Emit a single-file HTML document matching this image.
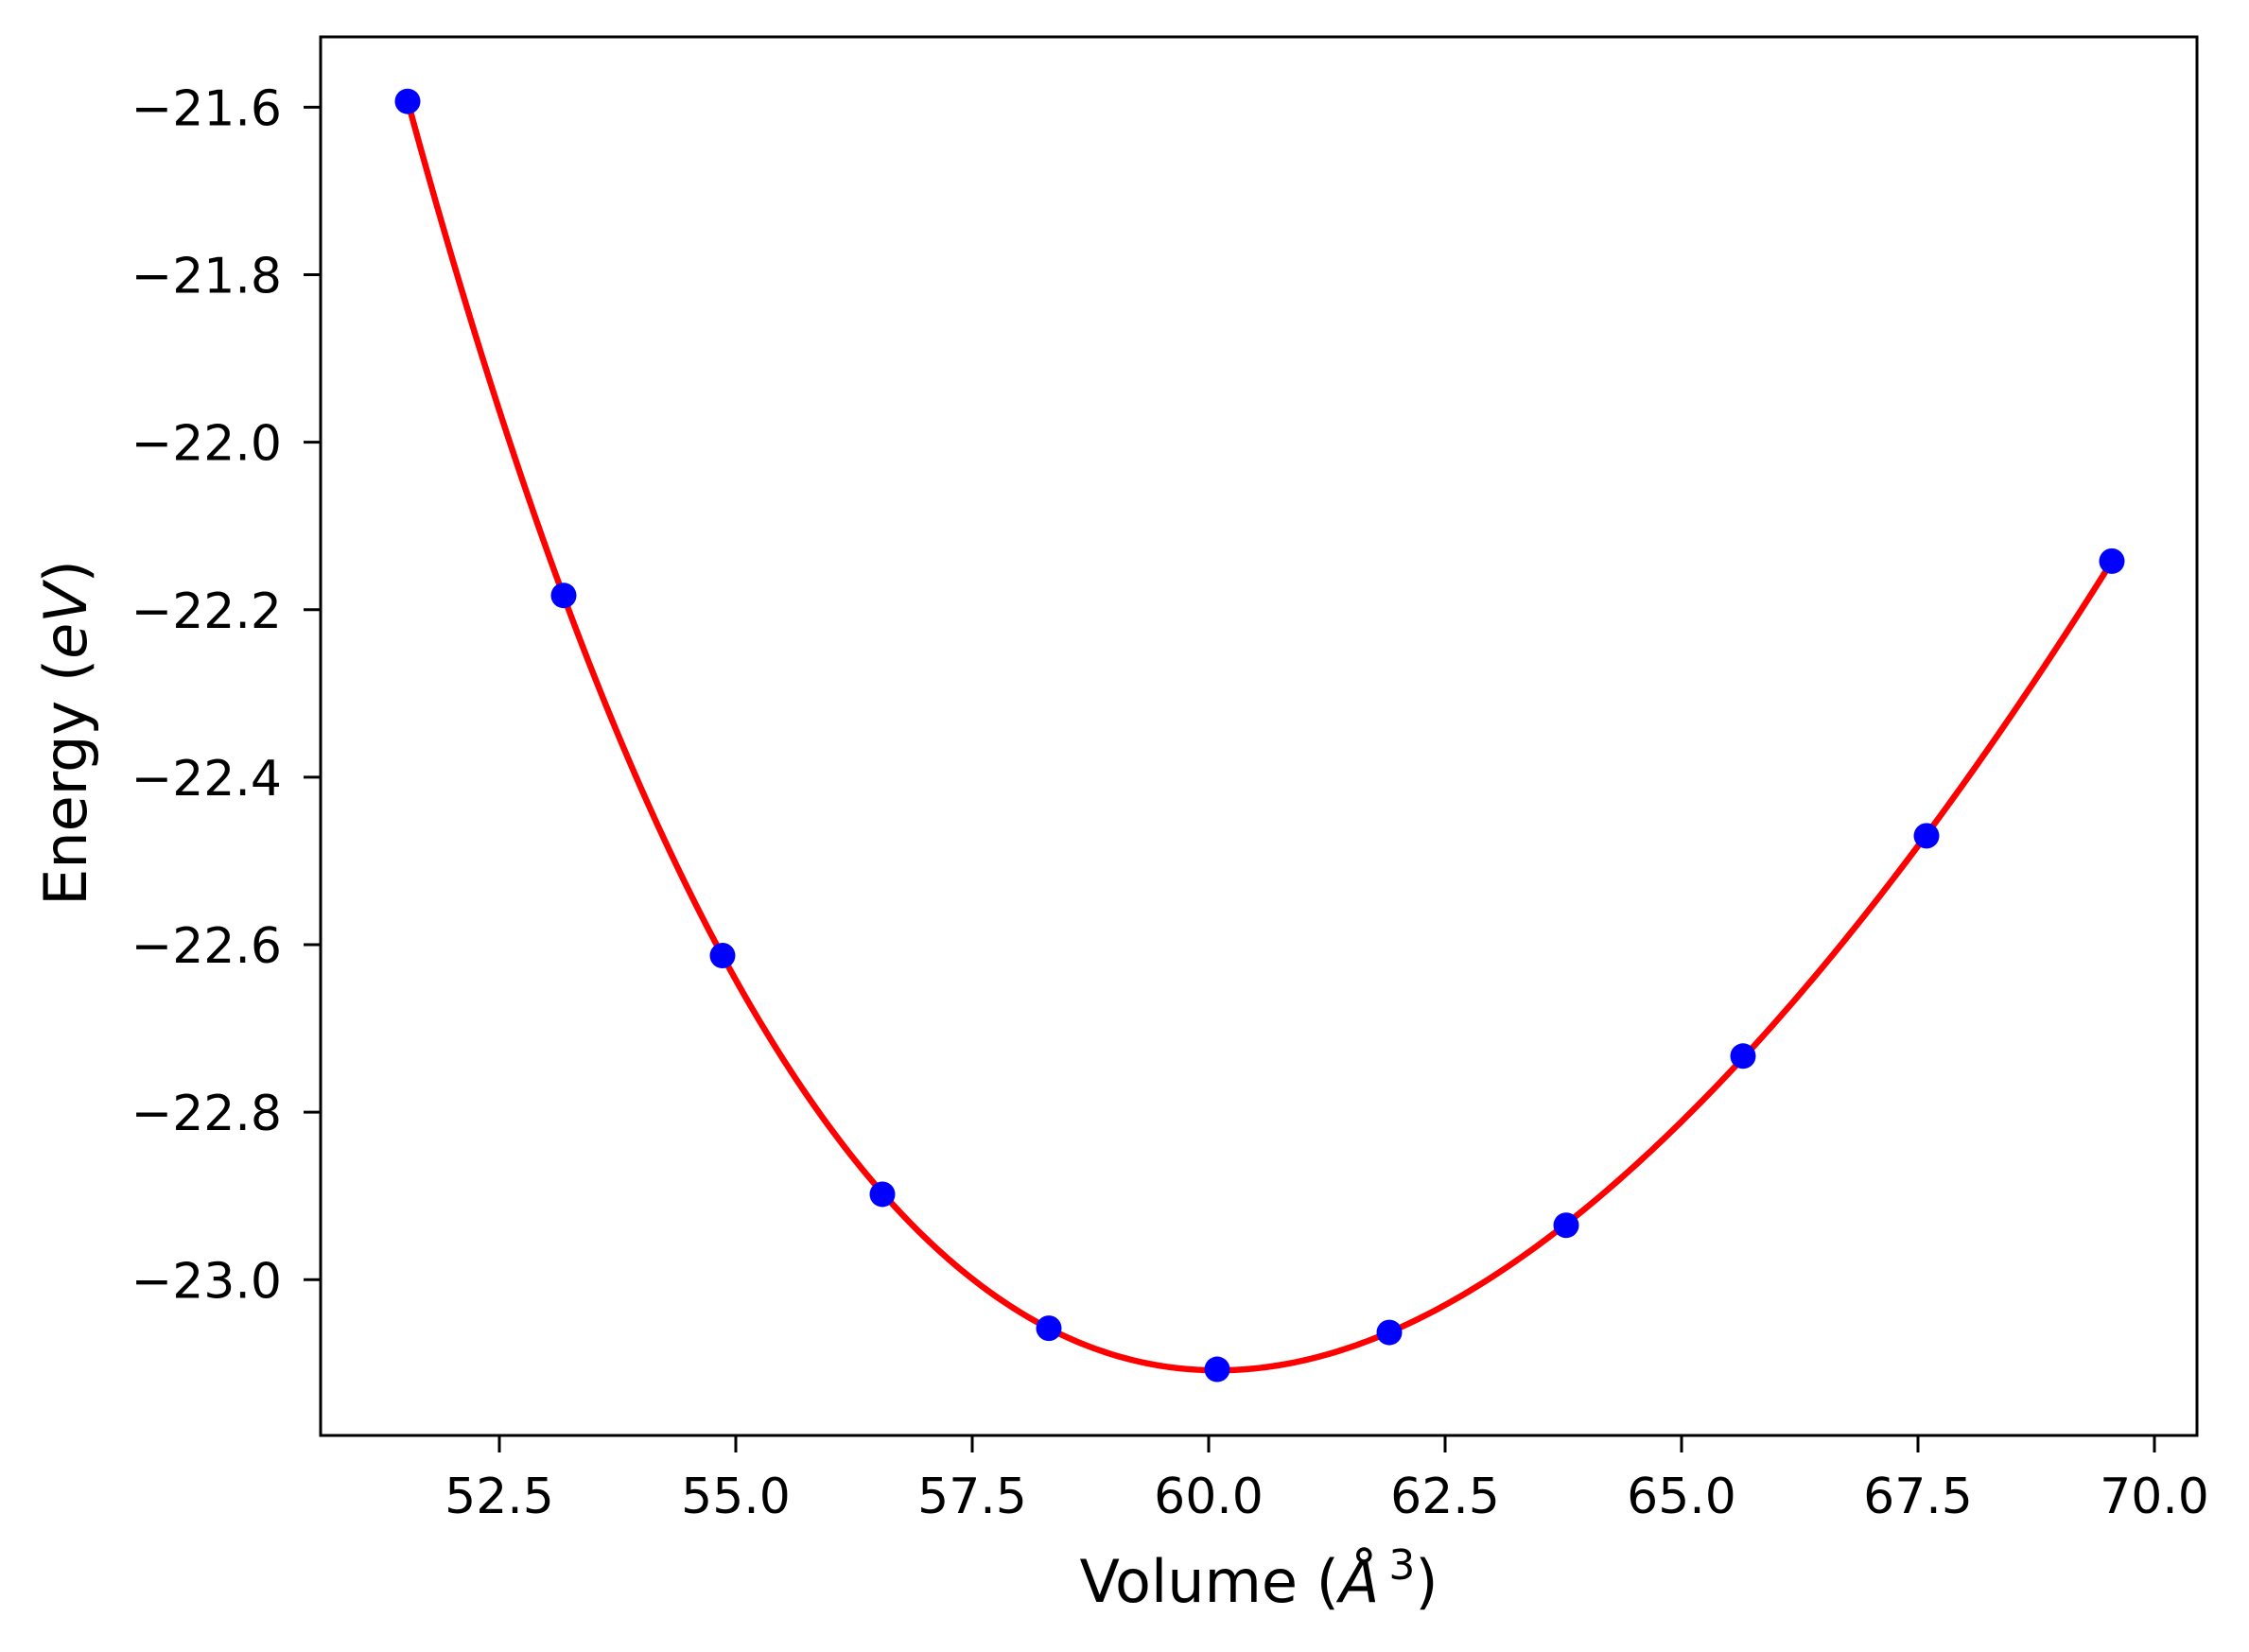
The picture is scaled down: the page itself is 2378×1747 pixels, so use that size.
<!DOCTYPE html>
<html><head><meta charset="utf-8"><style>
html,body{margin:0;padding:0;background:#fff;}
svg{display:block;font-family:"DejaVu Sans","Liberation Sans",sans-serif;}
</style></head><body>
<svg id="chart" width="2378" height="1747" viewBox="0 0 2378 1747" xmlns="http://www.w3.org/2000/svg">
<rect x="0" y="0" width="2378" height="1747" fill="#fff"/>
<g id="plot"></g>
</svg>
<script>
const volumes = [51.53, 53.18, 54.86, 56.55, 58.31, 60.09, 61.91, 63.78, 65.65, 67.59, 69.55];
const energies = [-21.593, -22.183, -22.613, -22.898, -23.058, -23.107, -23.063, -22.935, -22.733, -22.470, -22.142];
const xTicks = [52.5, 55.0, 57.5, 60.0, 62.5, 65.0, 67.5, 70.0];
const yTicks = [-21.6, -21.8, -22.0, -22.2, -22.4, -22.6, -22.8, -23.0];

const L = 339, R = 2323, T = 39, B = 1518;
const xMin = 50.61, xMax = 70.45;
const yMin = -23.186, yMax = -21.516;
function sx(v){ return L + (v - xMin) / (xMax - xMin) * (R - L); }
function sy(e){ return B - (e - yMin) / (yMax - yMin) * (B - T); }

const NS = "http://www.w3.org/2000/svg";
const g = document.getElementById('plot');
function mk(tag, attrs){ const el = document.createElementNS(NS, tag); for (const k in attrs) el.setAttribute(k, attrs[k]); g.appendChild(el); return el; }

// least-squares polynomial fit of E(V) (curve derived from data)
function fitPoly(xs, ys, deg){
  const n = deg+1, c = xs.reduce((a,b)=>a+b,0)/xs.length;
  const A = [], bvec = [];
  for (let i=0;i<n;i++){ A.push(new Array(n).fill(0)); bvec.push(0); }
  xs.forEach((x,k)=>{ const t=(x-c)/5; const p=[]; for(let i=0;i<n;i++) p.push(Math.pow(t,i));
    for(let i=0;i<n;i++){ bvec[i]+=p[i]*ys[k]; for(let j=0;j<n;j++) A[i][j]+=p[i]*p[j]; } });
  for(let i=0;i<n;i++){ let m=i; for(let r=i+1;r<n;r++) if(Math.abs(A[r][i])>Math.abs(A[m][i])) m=r;
    [A[i],A[m]]=[A[m],A[i]]; [bvec[i],bvec[m]]=[bvec[m],bvec[i]];
    for(let r=0;r<n;r++){ if(r===i) continue; const f=A[r][i]/A[i][i]; for(let j=i;j<n;j++) A[r][j]-=f*A[i][j]; bvec[r]-=f*bvec[i]; } }
  const coef = bvec.map((v,i)=>v/A[i][i]);
  return x=>{ const t=(x-c)/5; let s=0; for(let i=0;i<n;i++) s+=coef[i]*Math.pow(t,i); return s; };
}
const f = fitPoly(volumes, energies, 4);
let d = '';
const v0 = volumes[0], v1 = volumes[volumes.length-1];
for (let i=0;i<=300;i++){ const v = v0 + (v1-v0)*i/300; d += (i?'L':'M') + sx(v).toFixed(2) + ' ' + sy(f(v)).toFixed(2); }
const curve = mk('path', {d: d, fill:'none', stroke:'#ff0000', 'stroke-width':6.5, 'stroke-linejoin':'round'});



volumes.forEach((v,i)=>{
  const c = mk('circle', {cx: sx(v), cy: sy(energies[i]), r: 13.5, fill:'#0000ff'});
  
  
});

const frame = mk('rect', {x:L, y:T, width:R-L, height:B-T, fill:'none', stroke:'#000', 'stroke-width':3});



xTicks.forEach(t=>{
  const x = sx(t);
  const tk = mk('line', {x1:x, x2:x, y1:B, y2:B+18, stroke:'#000', 'stroke-width':3});
  
  
  const tx = mk('text', {x:x, y:1600, 'font-size':52, 'text-anchor':'middle', fill:'#000'});
  tx.textContent = t.toFixed(1);
  
  
});
yTicks.forEach(t=>{
  const y = sy(t);
  const tk = mk('line', {x1:L-18, x2:L, y1:y, y2:y, stroke:'#000', 'stroke-width':3});
  
  
  const tx = mk('text', {x:298, y:y+19, 'font-size':52, 'text-anchor':'end', fill:'#000'});
  tx.textContent = '\u2212' + Math.abs(t).toFixed(1);
  
  
});

const xl = mk('text', {x:(L+R)/2, y:1694, 'font-size':62, 'text-anchor':'middle', fill:'#000'});
xl.innerHTML = 'Volume (<tspan font-style="italic">Å</tspan><tspan font-size="44" dx="10" dy="-24">3</tspan><tspan dy="24">)</tspan>';



const yl = mk('text', {x:0, y:0, 'font-size':62, 'text-anchor':'middle', fill:'#000', transform:'translate(91,775) rotate(-90)'});
yl.innerHTML = 'Energy (<tspan font-style="italic">eV</tspan>)';


</script>
</body></html>
